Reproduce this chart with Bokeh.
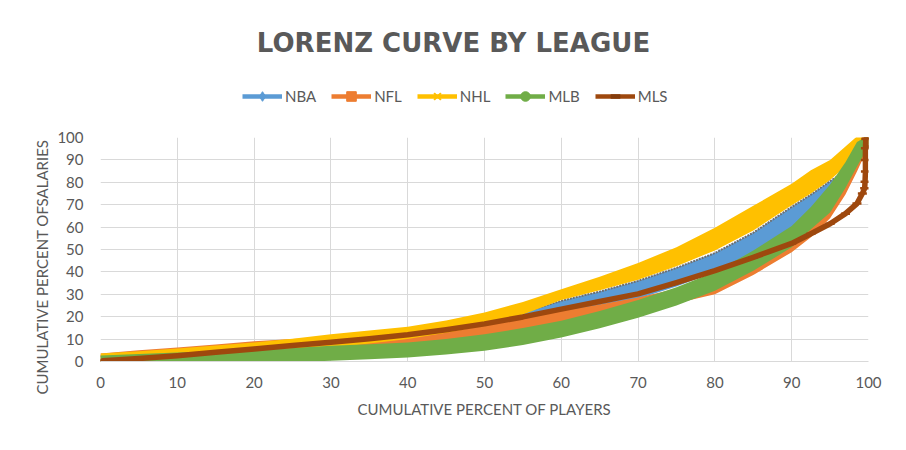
from bokeh.plotting import figure
from bokeh.layouts import column
from bokeh.models import Range1d, FixedTicker, Legend, LegendItem, Label, Title
from bokeh.embed import file_html
from bokeh.resources import INLINE

# ---------------- data ----------------
chart_title = "LORENZ CURVE BY LEAGUE"
x_title = "CUMULATIVE PERCENT OF PLAYERS"
y_title = "CUMULATIVE PERCENT OFSALARIES"
leagues = ["NBA", "NFL", "NHL", "MLB", "MLS"]
tick_values = [0, 10, 20, 30, 40, 50, 60, 70, 80, 90, 100]

# cumulative percent of players (x) at which the band edges were read
pct_players = [0, 5, 10, 15, 20, 25, 30, 35, 40, 45, 50, 55, 60, 65, 70, 75, 80, 85, 90, 92.5, 95, 97, 98.5, 100]

# cumulative percent of salaries: lower / upper edge of each league's band
nba_low  = [-2.5, -1.5, -0.5, 0.8, 2.0, 3.2, 4.5, 6.0, 7.5, 9.5, 12.0, 15.5, 19.5, 23.5, 28.0, 33.5, 40.0, 48.0, 57.0, 64.0, 71.0, 79.0, 87.0, 96.0]
nba_high = [2.5, 3.5, 4.5, 6.0, 7.5, 9.0, 10.5, 12.0, 13.5, 15.5, 18.0, 22.0, 27.1, 31.2, 36.0, 41.8, 48.4, 57.5, 69.0, 74.5, 80.5, 85.0, 93.0, 100.0]
nfl_low  = [-2.7, -1.6, -0.5, 0.8, 2.0, 3.0, 4.0, 5.5, 7.0, 8.6, 10.5, 13.2, 16.5, 19.2, 22.0, 26.0, 30.0, 38.6, 48.8, 55.5, 63.9, 74.5, 84.8, 96.0]
nfl_high = [3.6, 5.0, 6.3, 7.6, 9.0, 10.0, 10.8, 11.6, 12.5, 14.2, 16.0, 19.0, 22.5, 25.5, 28.6, 32.5, 37.5, 45.5, 55.5, 63.5, 72.0, 83.0, 92.5, 101.0]
nhl_low  = [-2.5, -1.0, 0.5, 1.8, 3.0, 4.5, 6.0, 8.0, 10.0, 12.8, 16.0, 21.0, 27.5, 31.8, 36.5, 42.5, 49.6, 58.5, 69.7, 75.0, 81.0, 87.0, 94.0, 97.0]
nhl_high = [3.6, 4.6, 5.8, 7.1, 8.5, 10.2, 12.2, 13.8, 15.5, 18.3, 21.9, 26.6, 32.3, 37.8, 44.0, 51.0, 59.7, 69.5, 79.4, 85.4, 90.0, 96.0, 100.5, 101.0]
mlb_low  = [-2.5, -2.2, -1.9, -1.4, -0.9, -0.3, 0.3, 1.0, 1.8, 3.1, 4.8, 7.4, 10.7, 14.8, 19.5, 25.0, 31.6, 40.5, 51.0, 59.0, 66.5, 77.5, 87.0, 96.0]
mlb_high = [2.7, 3.3, 4.0, 4.5, 5.1, 6.0, 7.0, 7.7, 8.5, 10.1, 12.2, 14.9, 18.2, 22.5, 27.5, 33.2, 39.9, 49.5, 60.5, 69.0, 79.0, 89.0, 98.0, 101.0]

# MLS curve (single line)
mls_x = [0.3, 5, 10, 15, 20, 25, 30, 35, 40, 45, 50, 55, 60, 65, 70, 75, 80, 85, 90, 92.5, 95, 97, 98.5,
         99.2, 99.5, 99.55, 99.6, 99.6, 99.6, 99.65, 99.7, 100, 100]
mls_y = [0.3, 1.3, 2.6, 4.1, 5.6, 7.1, 8.6, 10.2, 11.9, 14.2, 16.8, 19.9, 23.4, 26.8, 30.2, 35.2, 40.6,
         46.5, 52.7, 57.0, 61.5, 66.0, 70.5, 75.0, 77.3, 80.3, 84.8, 90.0, 95.2, 99.3, 100, 100, 96.0]

colors = {"NBA": "#5B9BD5", "NFL": "#ED7D31", "NHL": "#FFC000", "MLB": "#70AD47", "MLS": "#9E480E"}
markers = {"NBA": "diamond", "NFL": "square", "NHL": "x", "MLB": "circle", "MLS": "dash"}

TEXT = "#595959"
GRID = "#d9d9d9"
W = 890
HEAD_H = 127
FRAME_L, FRAME_R = 100, 868

# ---------------- header: title + legend (its frame is aligned with the plot frame) ----------------
head = figure(width=W, height=HEAD_H, output_backend="svg", toolbar_location=None,
              x_range=Range1d(FRAME_L, FRAME_R), y_range=Range1d(0, HEAD_H),
              x_axis_type=None, y_axis_type=None, min_border=0)
head.outline_line_color = None
head.xgrid.visible = False
head.ygrid.visible = False

head.add_layout(Label(x=453, y=HEAD_H - 42, text=chart_title, text_align="center",
                      text_baseline="middle", text_font="DejaVu Sans", text_font_style="bold",
                      text_font_size="26px", text_color=TEXT))

# legend samples: line + marker per league (placeholder point kept outside the visible range)
items = []
for name in leagues:
    lr = head.line([-500, -499], [-500, -500], line_color=colors[name], line_width=4.5)
    if name == "MLS":
        sr = head.scatter([-500], [-500], marker="dash", line_color="#843C0C", line_width=4.5)
    elif name == "NHL":
        sr = head.scatter([-500], [-500], marker="x", line_color=colors[name], line_width=2)
    else:
        sr = head.scatter([-500], [-500], marker=markers[name], fill_color=colors[name], line_color=colors[name])
    items.append(LegendItem(label=name, renderers=[lr, sr]))

legend = Legend(items=items, orientation="horizontal", location=(242 - FRAME_L, HEAD_H - 108),
                border_line_color=None, background_fill_alpha=0, padding=0, margin=0,
                spacing=15, label_standoff=3, glyph_width=40, glyph_height=24,
                label_text_font="Lato", label_text_font_size="15px", label_text_color=TEXT)
head.add_layout(legend, "center")

# ---------------- main plot ----------------
p = figure(width=W, height=434 - HEAD_H, output_backend="svg", toolbar_location=None,
           x_range=Range1d(0, 100), y_range=Range1d(0, 100),
           min_border_left=FRAME_L, min_border_right=W - FRAME_R,
           min_border_top=137 - HEAD_H, min_border_bottom=73)
p.outline_line_color = None

for ax in (p.xaxis[0], p.yaxis[0]):
    ax.ticker = FixedTicker(ticks=tick_values)
    ax.major_tick_line_color = None
    ax.minor_tick_line_color = None
    ax.axis_line_color = GRID
    ax.major_label_text_font = "Lato"
    ax.major_label_text_font_size = "15px"
    ax.major_label_text_color = TEXT
    ax.axis_label_text_font = "Lato"
    ax.axis_label_text_font_size = "15px"
    ax.axis_label_text_font_style = "normal"
    ax.axis_label_text_color = TEXT
p.yaxis.axis_line_color = None
p.yaxis.major_tick_out = 0
p.xaxis.major_label_standoff = 9
p.yaxis.major_label_standoff = 17
p.xaxis.axis_label = x_title
p.xaxis.axis_label_standoff = 9

# y-axis title: side title anchored at its lower end, below the frame bottom as in the original
p.add_layout(Title(text=y_title, align="left", offset=-33, standoff=7, text_font="Lato",
                   text_font_size="15px", text_font_style="normal", text_color=TEXT), "left")

p.xgrid.grid_line_color = GRID
p.ygrid.grid_line_color = GRID

bands = [("NBA", nba_low, nba_high), ("NFL", nfl_low, nfl_high),
         ("NHL", nhl_low, nhl_high), ("MLB", mlb_low, mlb_high)]
for name, lo, hi in bands:
    p.varea(x=pct_players, y1=lo, y2=hi, fill_color=colors[name], fill_alpha=1.0)
    if name == "NBA":
        # marker outlines along the upper edge of the NBA band
        p.line(pct_players, nba_high, line_color="#6f6f6f", line_width=2, line_dash="2 1")

p.line(mls_x, mls_y, line_color=colors["MLS"], line_width=5.5, line_join="round", line_cap="round")
p.scatter(mls_x, mls_y, marker="dash", size=9, line_color=colors["MLS"], line_width=2.5)

layout = column(head, p, spacing=0)
open("out.html", "w").write(file_html(layout, INLINE))
